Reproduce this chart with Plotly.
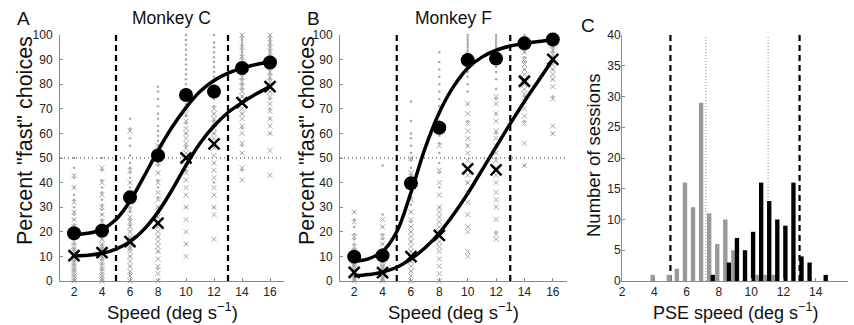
import plotly.graph_objects as go

# ---------------- data ----------------
speeds = [2, 4, 6, 8, 10, 12, 14, 16]

# Panel A (Monkey C) means
A_circle = [19.4, 20.4, 34, 51, 75.6, 77, 86.6, 88.8]
A_cross = [10.3, 11.5, 16, 23.5, 50, 55.7, 72.5, 79]
# Panel A fitted curves read at integer speeds
curve_x = [2, 3, 4, 5, 6, 7, 8, 9, 10, 11, 12, 13, 14, 15, 16]
A_fit_circle = [19, 19.4, 21, 25, 32.5, 42.5, 53, 62.5, 70.5, 77, 81.5, 84.5, 86.5, 88, 89]
A_fit_cross = [10.3, 10.5, 11.3, 13, 16, 21, 28, 37, 47, 56, 63, 68.5, 72.5, 76, 79]

# Panel A individual sessions
A_dots = [
    [0, 2, 4, 5, 7, 8, 10, 12, 13, 15, 17, 18, 20, 21, 23, 25, 27, 28, 30, 33, 35, 38, 42, 46, 50],
    [0, 2, 3, 5, 7, 9, 10, 12, 14, 15, 17, 19, 20, 22, 24, 25, 27, 29, 31, 33, 36, 38, 41, 45, 50],
    [0, 3, 6, 10, 14, 17, 20, 23, 25, 28, 30, 32, 34, 36, 38, 40, 42, 44, 46, 48, 51, 55, 58, 62, 66],
    [5, 12, 18, 24, 30, 34, 38, 41, 44, 47, 49, 51, 53, 55, 57, 59, 61, 63, 66, 68, 71, 74, 77, 79],
    [15, 30, 45, 55, 60, 64, 67, 70, 72, 74, 76, 78, 80, 82, 84, 86, 88, 90, 92, 94, 96, 98, 100],
    [30, 40, 48, 55, 60, 65, 68, 71, 74, 77, 79, 81, 83, 85, 87, 89, 91, 93, 95, 97, 100],
    [45, 55, 62, 68, 72, 75, 78, 80, 82, 84, 86, 88, 90, 91, 92, 93, 94, 95, 96, 97, 98, 99, 100],
    [60, 66, 70, 74, 77, 80, 82, 84, 86, 88, 89, 90, 91, 92, 93, 94, 95, 96, 97, 98, 99, 100],
]
A_xs = [
    [0, 1, 2, 3, 4, 5, 6, 7, 8, 9, 10, 11, 12, 13, 14, 16, 18, 20, 22, 25, 28, 32, 38, 43],
    [0, 1, 2, 4, 5, 6, 8, 9, 10, 11, 12, 13, 14, 15, 17, 19, 21, 24, 27, 30, 35, 40, 46],
    [0, 2, 4, 6, 8, 10, 12, 13, 14, 15, 16, 17, 18, 20, 22, 24, 26, 29, 32, 36, 40, 45, 61],
    [0, 3, 6, 9, 12, 14, 16, 18, 20, 22, 24, 26, 28, 30, 33, 36, 40, 44, 48, 52, 55],
    [10, 15, 20, 25, 30, 35, 38, 41, 44, 47, 50, 52, 54, 56, 58, 60, 62, 65, 68, 70],
    [17, 27, 30, 35, 38, 42, 45, 48, 51, 54, 56, 58, 60, 62, 64, 66, 68, 70],
    [41, 46, 52, 56, 60, 63, 66, 68, 70, 72, 73, 75, 77, 79, 81, 83, 85, 88, 91, 95, 100],
    [43, 53, 60, 63, 66, 69, 72, 75, 77, 79, 81, 83, 85, 87, 89, 91, 93, 95, 97, 100],
]

# Panel B (Monkey F) means
B_circle = [9.9, 10.4, 39.7, 62.3, 89.8, 90.4, 96.6, 98.2]
B_cross = [3.5, 3.4, 9.9, 18.5, 45.6, 45.2, 81.2, 90.1]
B_fit_circle = [8, 9, 12, 20, 36, 54, 68.5, 79, 86.5, 91, 93.8, 95.5, 96.6, 97.4, 98]
B_fit_cross = [2, 2.6, 3.6, 5.6, 9, 13.5, 19.5, 27, 35.5, 45, 54.5, 64, 73, 81.5, 90]

B_dots = [
    [0, 1, 2, 3, 4, 5, 6, 7, 8, 9, 10, 11, 12, 13, 15, 17, 19, 22, 25, 28],
    [0, 1, 2, 4, 5, 6, 8, 9, 10, 11, 12, 13, 15, 17, 19, 22, 27, 47],
    [0, 4, 8, 12, 16, 20, 24, 28, 31, 34, 37, 40, 43, 46, 49, 52, 55, 58, 60, 65, 73],
    [0, 20, 30, 38, 44, 48, 52, 56, 59, 62, 65, 68, 71, 74, 77, 80, 83, 86, 89, 93],
    [40, 55, 65, 72, 77, 80, 83, 85, 87, 89, 90, 91, 92, 93, 94, 95, 96, 97, 98, 99, 100],
    [20, 50, 60, 68, 74, 78, 82, 85, 87, 89, 90, 91, 92, 93, 94, 95, 96, 97, 98, 99, 100],
    [47, 65, 75, 82, 86, 89, 91, 93, 94, 95, 96, 97, 98, 99, 100],
    [60, 75, 82, 86, 89, 91, 93, 94, 95, 96, 97, 98, 99, 100],
]
B_xs = [
    [0, 1, 2, 3, 4, 5, 6, 7, 8, 10, 12, 14, 18, 24, 28],
    [0, 1, 2, 3, 4, 5, 6, 7, 8, 10, 12, 15, 18, 22, 25],
    [0, 2, 4, 6, 8, 10, 12, 14, 16, 18, 20, 22, 25, 28, 33, 38, 44, 50],
    [0, 3, 6, 9, 12, 14, 16, 18, 20, 22, 24, 26, 28, 30, 35, 40, 45, 55],
    [10, 12, 20, 22, 27, 32, 36, 40, 43, 46, 49, 52, 55, 58, 61, 64, 68, 72],
    [17, 19, 25, 30, 33, 36, 40, 43, 46, 49, 52, 55, 58, 61, 65, 68, 72, 75],
    [47, 56, 64, 67, 70, 73, 76, 78, 80, 82, 84, 86, 88, 90, 93],
    [60, 63, 74, 79, 82, 84, 86, 88, 90, 92, 94, 96, 98, 100],
]

# Panel C histogram
gray_centers = [3.9, 4.9, 5.4, 5.9, 6.4, 6.9, 7.4, 7.9, 8.4, 8.9, 10.4, 10.9, 11.4]
gray_counts = [1, 1, 2, 16, 12, 29, 11, 6, 10, 5, 1, 1, 1]
black_centers = [7.62, 8.62, 9.12, 9.62, 10.12, 10.62, 11.12, 11.62, 12.12, 12.62, 13.12, 13.62, 14.62]
black_counts = [1, 3, 7, 5, 8, 16, 13, 10, 9, 16, 4, 3, 1]
pse_median_gray = 7.2
pse_median_black = 11.05
bound_lo, bound_hi = 5, 13

# ---------------- figure ----------------
W, H = 854, 325
FONT = "Liberation Sans, Arial, sans-serif"
GRAY_PT = "#a8a8a8"
AX_COL = "#8a8a8a"


def px(x):
    return x / W


def py(y):
    return 1 - y / H


fig = go.Figure()


def flat(vals_per_speed):
    xs, ys = [], []
    for s, vals in zip(speeds, vals_per_speed):
        xs += [s] * len(vals)
        ys += vals
    return xs, ys


for i, (dots, crs, circ, cross, fc, fx) in enumerate([
    (A_dots, A_xs, A_circle, A_cross, A_fit_circle, A_fit_cross),
    (B_dots, B_xs, B_circle, B_cross, B_fit_circle, B_fit_cross),
]):
    xa = "x" if i == 0 else "x2"
    ya = "y" if i == 0 else "y2"
    dx, dy = flat(dots)
    fig.add_trace(go.Scatter(x=dx, y=dy, xaxis=xa, yaxis=ya, mode="markers",
                             marker=dict(symbol="circle", size=2.5, color=GRAY_PT),
                             cliponaxis=False, showlegend=False))
    cx, cy = flat(crs)
    fig.add_trace(go.Scatter(x=cx, y=cy, xaxis=xa, yaxis=ya, mode="markers",
                             marker=dict(symbol="x-thin", size=5, color=GRAY_PT,
                                         line=dict(width=1, color=GRAY_PT)),
                             cliponaxis=False, showlegend=False))
    fig.add_trace(go.Scatter(x=curve_x, y=fc, xaxis=xa, yaxis=ya, mode="lines",
                             line=dict(color="black", width=3.5, shape="spline"),
                             showlegend=False))
    fig.add_trace(go.Scatter(x=curve_x, y=fx, xaxis=xa, yaxis=ya, mode="lines",
                             line=dict(color="black", width=3.5, shape="spline"),
                             showlegend=False))
    fig.add_trace(go.Scatter(x=speeds, y=circ, xaxis=xa, yaxis=ya, mode="markers",
                             marker=dict(symbol="circle", size=14, color="black"),
                             cliponaxis=False, showlegend=False))
    fig.add_trace(go.Scatter(x=speeds, y=cross, xaxis=xa, yaxis=ya, mode="markers",
                             marker=dict(symbol="x-thin", size=11, color="black",
                                         line=dict(width=2.5, color="black")),
                             cliponaxis=False, showlegend=False))
    # reference lines
    for xv in (bound_lo, bound_hi):
        fig.add_shape(type="line", xref=xa, yref=ya, x0=xv, x1=xv, y0=0, y1=100,
                      line=dict(color="black", width=2.2, dash="6px,4px"), layer="above")
    fig.add_shape(type="line", xref=xa, yref=ya, x0=1, x1=17, y0=50, y1=50,
                  line=dict(color="#333", width=1, dash="1px,3px"), layer="below")

# Panel C
fig.add_trace(go.Bar(x=gray_centers, y=gray_counts, width=0.27, xaxis="x3", yaxis="y3",
                     marker=dict(color="#999999", line=dict(width=0)), showlegend=False))
fig.add_trace(go.Bar(x=black_centers, y=black_counts, width=0.27, xaxis="x3", yaxis="y3",
                     marker=dict(color="black", line=dict(width=0)), showlegend=False))
for xv in (bound_lo, bound_hi):
    fig.add_shape(type="line", xref="x3", yref="y3", x0=xv, x1=xv, y0=0, y1=40,
                  line=dict(color="black", width=2.2, dash="6px,4px"), layer="below")
for xv in (pse_median_gray, pse_median_black):
    fig.add_shape(type="line", xref="x3", yref="y3", x0=xv, x1=xv, y0=0, y1=40,
                  line=dict(color="#888", width=1, dash="1px,2px"), layer="below")

ybot, ytop = py(281), py(35)
common = dict(showline=True, linecolor=AX_COL, linewidth=1, ticks="inside", ticklen=3,
              tickcolor=AX_COL, showgrid=False, zeroline=False, automargin=False,
              tickfont=dict(family=FONT, size=12, color="#222"), mirror=False)

fig.update_layout(
    width=W, height=H, margin=dict(l=0, r=0, t=0, b=0),
    paper_bgcolor="white", plot_bgcolor="white", barmode="overlay",
    font=dict(family=FONT, color="#111"),
    xaxis=dict(domain=[px(60), px(284)], range=[1, 17], tickvals=speeds, anchor="y", **common),
    yaxis=dict(domain=[ybot, ytop], range=[0, 100], tickvals=list(range(0, 101, 10)), anchor="x",
               ticklabelstandoff=4, **common),
    xaxis2=dict(domain=[px(340), px(567)], range=[1, 17], tickvals=speeds, anchor="y2", **common),
    yaxis2=dict(domain=[ybot, ytop], range=[0, 100], tickvals=list(range(0, 101, 10)), anchor="x2",
                ticklabelstandoff=4, **common),
    xaxis3=dict(domain=[px(622), px(848)], range=[2, 16], tickvals=list(range(2, 17, 2)), anchor="y3", **common),
    yaxis3=dict(domain=[ybot, ytop], range=[0, 40], tickvals=list(range(0, 41, 5)), anchor="x3",
                ticklabelstandoff=-2, **common),
)

ann = []


def text(t, x, y, size, angle=0):
    ann.append(dict(text=t, x=px(x), y=py(y), xref="paper", yref="paper", showarrow=False,
                    xanchor="center", yanchor="middle", textangle=angle,
                    font=dict(family=FONT, size=size, color="#111")))


text("Monkey C", 171, 18, 17.5)
text("Monkey F", 453, 18, 17.5)
text("A", 23, 19, 19)
text("B", 313, 19, 19)
text("C", 588, 26, 19)
text("Percent \"fast\" choices", 25, 141, 21.5, -90)
text("Percent \"fast\" choices", 307, 141, 21.5, -90)
text("Number of sessions", 593, 156, 18.5, -90)
text("Speed (deg s<sup>\u22121</sup>)", 172, 311, 18.5)
text("Speed (deg s<sup>\u22121</sup>)", 453, 311, 18.5)
text("PSE speed (deg s<sup>\u22121</sup>)", 735, 311, 18)
fig.update_layout(annotations=ann)

fig.write_html("out.html")
